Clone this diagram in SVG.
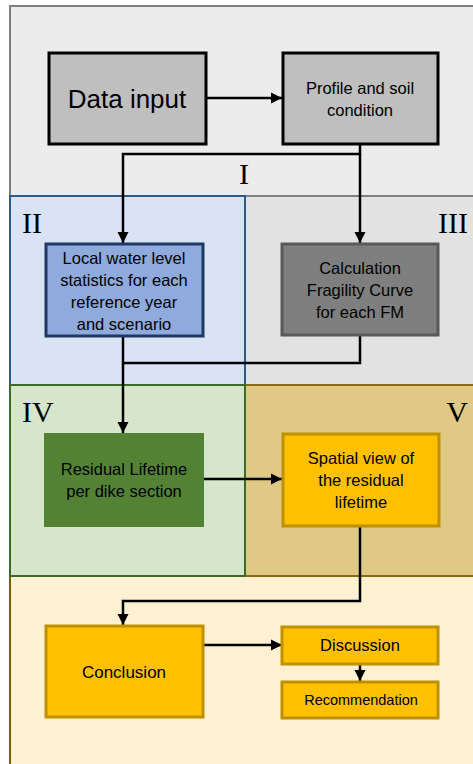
<svg xmlns="http://www.w3.org/2000/svg" width="473" height="764" viewBox="0 0 473 764">
<defs>
<marker id="ah" viewBox="0 0 10 10" refX="10" refY="5" markerWidth="4.5" markerHeight="4.5" markerUnits="strokeWidth" orient="auto"><path d="M0,0 L10,5 L0,10 z" fill="#000"/></marker>
<style>
.t{font-family:"Liberation Sans","Open Sans",sans-serif;fill:#000;text-anchor:middle;font-size:16.5px}
.r{font-family:"Liberation Serif",serif;font-size:30px;fill:#000}
.c{fill:none;stroke:#000;stroke-width:2.5}
</style>
</defs>
<rect width="473" height="764" fill="#fff"/>
<g id="regions">
<rect x="10" y="6" width="470" height="190" fill="#ececec" stroke="#808080" stroke-width="2"/>
<rect x="245" y="196" width="235" height="189" fill="#e2e2e2" stroke="#808080" stroke-width="2"/>
<rect x="10" y="196" width="235" height="189" fill="#dae3f3" stroke="#2e5c8a" stroke-width="2"/>
<rect x="10" y="576" width="470" height="200" fill="#fdf1d2" stroke="#7f6000" stroke-width="2"/>
<rect x="245" y="385" width="235" height="191" fill="#e0c986" stroke="#8a6b14" stroke-width="2"/>
<rect x="10" y="385" width="235" height="191" fill="#d5e6cb" stroke="#3d6b27" stroke-width="2"/>
<text class="r" x="244" y="184" text-anchor="middle">I</text>
<text class="r" x="22" y="233">II</text>
<text class="r" x="468" y="233" text-anchor="end">III</text>
<text class="r" x="22" y="422">IV</text>
<text class="r" x="468" y="422" text-anchor="end">V</text>
</g>
<g id="connectors">
<line class="c" x1="206" y1="98" x2="282" y2="98" marker-end="url(#ah)"/>
<polyline class="c" points="360,144 360,154 123,154 123,243" marker-end="url(#ah)"/>
<line class="c" x1="360" y1="154" x2="360" y2="243" marker-end="url(#ah)"/>
<polyline class="c" points="360,335 360,363 123,363"/>
<line class="c" x1="123" y1="336" x2="123" y2="433" marker-end="url(#ah)"/>
<line class="c" x1="204" y1="479" x2="282" y2="479" marker-end="url(#ah)"/>
<polyline class="c" points="360,526 360,601 123,601 123,625" marker-end="url(#ah)"/>
<line class="c" x1="204" y1="645" x2="282" y2="645" marker-end="url(#ah)"/>
<line class="c" x1="360" y1="664" x2="360" y2="681" marker-end="url(#ah)"/>
</g>
<g id="data-input">
<rect x="49" y="53" width="157" height="91" fill="#bfbfbf" stroke="#000" stroke-width="3"/>
<text class="t" x="127" y="108" font-size="26" style="font-size:26px">Data input</text>
</g>
<g id="profile">
<rect x="283" y="53" width="155" height="91" fill="#bfbfbf" stroke="#000" stroke-width="3"/>
<text class="t" x="360" y="94">Profile and soil</text>
<text class="t" x="360" y="116">condition</text>
</g>
<g id="local-water">
<rect x="46" y="244" width="157" height="92" fill="#8faadc" stroke="#1f3864" stroke-width="3"/>
<text class="t" x="124" y="264">Local water level</text>
<text class="t" x="124" y="286">statistics for each</text>
<text class="t" x="124" y="308">reference year</text>
<text class="t" x="124" y="330">and scenario</text>
</g>
<g id="calculation">
<rect x="282" y="244" width="156" height="91" fill="#7f7f7f" stroke="#595959" stroke-width="3"/>
<text class="t" x="360" y="274">Calculation</text>
<text class="t" x="360" y="296">Fragility Curve</text>
<text class="t" x="360" y="318">for each FM</text>
</g>
<g id="residual">
<rect x="44" y="433" width="160" height="94" fill="#548235"/>
<text class="t" x="124" y="475">Residual Lifetime</text>
<text class="t" x="124" y="497">per dike section</text>
</g>
<g id="spatial">
<rect x="283" y="434" width="156" height="92" fill="#ffc000" stroke="#bf9000" stroke-width="3"/>
<text class="t" x="361" y="464">Spatial view of</text>
<text class="t" x="361" y="486">the residual</text>
<text class="t" x="361" y="508">lifetime</text>
</g>
<g id="conclusion">
<rect x="46" y="626" width="157" height="91" fill="#ffc000" stroke="#bf9000" stroke-width="3"/>
<text class="t" x="124" y="678" style="font-size:17px">Conclusion</text>
</g>
<g id="discussion">
<rect x="282" y="627" width="156" height="37" fill="#ffc000" stroke="#bf9000" stroke-width="3"/>
<text class="t" x="360" y="651" style="font-size:16.5px">Discussion</text>
</g>
<g id="recommendation">
<rect x="282" y="682" width="156" height="36" fill="#ffc000" stroke="#bf9000" stroke-width="3"/>
<text class="t" x="361" y="705" style="font-size:14.5px">Recommendation</text>
</g>
</svg>
